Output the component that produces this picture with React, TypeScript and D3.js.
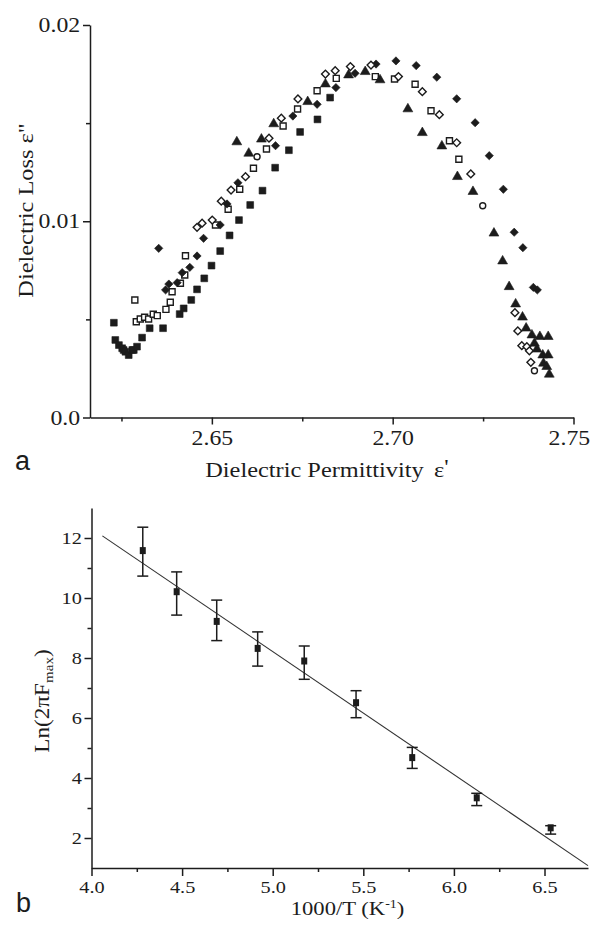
import React, { useRef, useEffect } from "react";
import * as d3 from "d3";

// ---- panel a: dielectric loss vs permittivity (Cole-Cole type plot) ----
const topXTicks = [2.65, 2.7, 2.75];
const topXTickLabels = ["2.65", "2.70", "2.75"];
const topXMinor = [2.625, 2.675, 2.725];
const topYTicks = [0, 0.01, 0.02];
const topYTickLabels = ["0.0", "0.01", "0.02"];
const topYMinor = [0.005, 0.015];

const filledSquares: [number, number][] = [
  [2.6229, 0.00483], [2.6233, 0.00395], [2.6243, 0.00369], [2.6252, 0.00353],
  [2.6256, 0.00344], [2.6261, 0.00335], [2.627, 0.00318], [2.628, 0.00344],
  [2.6284, 0.00344], [2.6293, 0.00361], [2.6307, 0.00407], [2.6328, 0.00455],
  [2.6365, 0.00455], [2.6411, 0.00527], [2.6422, 0.00556], [2.6443, 0.00599],
  [2.6459, 0.00653], [2.6479, 0.00709], [2.6499, 0.00774], [2.6523, 0.00848],
  [2.6549, 0.00928], [2.6575, 0.01006], [2.6606, 0.01083], [2.664, 0.01156],
  [2.6675, 0.01273], [2.6713, 0.01362], [2.6744, 0.01455], [2.6792, 0.01519],
  [2.6827, 0.0163],
];

const openSquares: [number, number][] = [
  [2.6287, 0.00599], [2.6291, 0.00488], [2.6302, 0.00502], [2.6314, 0.00511],
  [2.6325, 0.00502], [2.6338, 0.00526], [2.6349, 0.00519], [2.6373, 0.00551],
  [2.6385, 0.00587], [2.639, 0.00641], [2.6413, 0.00684], [2.6425, 0.00726],
  [2.6427, 0.00824], [2.651, 0.00981], [2.6545, 0.01061], [2.6577, 0.01163],
  [2.6615, 0.0127], [2.6651, 0.01368], [2.6697, 0.01485], [2.6737, 0.01572],
  [2.6791, 0.01665], [2.6844, 0.01728], [2.6952, 0.01737], [2.7005, 0.01725],
  [2.7062, 0.01698], [2.7106, 0.01563], [2.7157, 0.0141], [2.7183, 0.01316],
];

const filledDiamonds: [number, number][] = [
  [2.6353, 0.00862], [2.6372, 0.0065], [2.6381, 0.0068], [2.6404, 0.00687],
  [2.6418, 0.00738], [2.6439, 0.00765], [2.6459, 0.00823], [2.6477, 0.00913],
  [2.6523, 0.00981], [2.6542, 0.01088], [2.6572, 0.01196], [2.6676, 0.01385],
  [2.6724, 0.01536], [2.6791, 0.01596], [2.6843, 0.01681], [2.6896, 0.01754],
  [2.6954, 0.01801], [2.7009, 0.01817], [2.7065, 0.01793], [2.7122, 0.01734],
  [2.7177, 0.01624], [2.7228, 0.01502], [2.7267, 0.01334], [2.7306, 0.01163],
  [2.7336, 0.00944], [2.736, 0.00865], [2.7389, 0.00663], [2.74, 0.0065],
];

const openDiamonds: [number, number][] = [
  [2.6459, 0.00969], [2.6473, 0.0099], [2.6501, 0.01006], [2.6526, 0.01102],
  [2.6553, 0.01159], [2.6593, 0.01227], [2.6658, 0.01423], [2.6692, 0.01525],
  [2.6738, 0.01623], [2.6814, 0.0175], [2.6841, 0.01767], [2.6883, 0.01788],
  [2.694, 0.01796], [2.7016, 0.01737], [2.7082, 0.0166], [2.7129, 0.01543],
  [2.7177, 0.014], [2.7216, 0.01241], [2.7338, 0.00534], [2.7346, 0.00441],
  [2.7357, 0.00366], [2.7371, 0.00361], [2.7378, 0.0034], [2.7382, 0.00281],
];

const openCircles: [number, number][] = [
  [2.6625, 0.01329], [2.7249, 0.01079], [2.7392, 0.00238],
];

const filledTriangles: [number, number][] = [
  [2.6569, 0.01404], [2.6602, 0.01346], [2.6637, 0.01418], [2.6671, 0.01496],
  [2.6765, 0.01609], [2.6814, 0.01699], [2.6878, 0.01745], [2.6924, 0.01762],
  [2.6965, 0.0172], [2.7042, 0.01572], [2.7082, 0.01451], [2.7136, 0.01383],
  [2.7179, 0.01227], [2.7222, 0.01151], [2.728, 0.00939], [2.7304, 0.00797],
  [2.7322, 0.00666], [2.734, 0.00578], [2.7359, 0.00511], [2.7369, 0.00455],
  [2.7385, 0.0042], [2.7392, 0.00378], [2.7399, 0.00348], [2.7407, 0.00412],
  [2.743, 0.00412], [2.7415, 0.00318], [2.743, 0.00318], [2.7417, 0.00276],
  [2.7426, 0.00259], [2.7433, 0.0022],
];

// ---- panel b: Arrhenius plot ----
const botXTicks = [4.0, 4.5, 5.0, 5.5, 6.0, 6.5];
const botXMinor = [4.25, 4.75, 5.25, 5.75, 6.25];
const botYTicks = [2, 4, 6, 8, 10, 12];
const botYMinor = [3, 5, 7, 9, 11];

const invTemp = [4.283, 4.47, 4.691, 4.917, 5.174, 5.46, 5.77, 6.126, 6.534];
const lnFmax = [11.58, 10.21, 9.22, 8.32, 7.9, 6.51, 4.68, 3.34, 2.34];
const lnFmaxHigh = [12.36, 10.87, 9.93, 8.87, 8.4, 6.91, 5.02, 3.49, 2.41];
const lnFmaxLow = [10.73, 9.43, 8.58, 7.73, 7.29, 6.01, 4.32, 3.08, 2.13];
const fitLine: [number, number][] = [
  [4.06, 12.07],
  [6.74, 1.08],
];

const SERIF = "'Liberation Serif', 'Times New Roman', serif";
const SANS = "'Liberation Sans', Arial, sans-serif";
const INK = "#1c1c1c";
const SX = 1.16; // the scanned font is a bit wider than Times

export default function App() {
  const svgRef = useRef<SVGSVGElement>(null);

  useEffect(() => {
    const svg = d3.select(svgRef.current);
    svg.selectAll("*").remove();

    const styleAxis = (g: any, fs: number, minor = false) => {
      g.attr("font-family", SERIF).attr("font-size", fs);
      if (minor) g.select(".domain").remove();
      else g.select(".domain").attr("stroke", INK).attr("stroke-width", 1.5);
      g.selectAll(".tick line").attr("stroke", INK).attr("stroke-width", 1.5);
      g.selectAll(".tick text")
        .attr("fill", INK)
        .attr("transform", `scale(${SX},1)`);
    };

    const label = (
      x: number,
      y: number,
      rot: number,
      fs: number,
      build: (t: any) => void
    ) => {
      const t = svg
        .append("text")
        .attr("transform", `translate(${x},${y}) rotate(${rot}) scale(${SX},1)`)
        .attr("text-anchor", "middle")
        .attr("font-family", SERIF)
        .attr("font-size", fs)
        .attr("fill", INK);
      build(t);
    };

    // ================= panel a =================
    const xA = d3.scaleLinear().domain([2.6163, 2.75]).range([90, 573.5]);
    const yA = d3.scaleLinear().domain([0, 0.02]).range([417.5, 25]);

    svg
      .append("g")
      .attr("transform", "translate(0,417.5)")
      .call(
        d3
          .axisBottom(xA)
          .tickValues(topXTicks)
          .tickSize(7)
          .tickSizeOuter(0)
          .tickPadding(5.5)
          .tickFormat((d, i) => topXTickLabels[i])
      )
      .call((g) => styleAxis(g, 20.5))
      // last label sits on the page edge; keep it inside
      .call((g) =>
        g
          .selectAll(".tick text")
          .filter((d: any) => d === 2.75)
          .attr("dx", -4)
      );
    svg
      .append("g")
      .attr("transform", "translate(0,417.5)")
      .call(d3.axisBottom(xA).tickValues(topXMinor).tickSize(4).tickFormat(() => ""))
      .call((g) => styleAxis(g, 20.5, true));

    svg
      .append("g")
      .attr("transform", "translate(90,0)")
      .call(
        d3
          .axisLeft(yA)
          .tickValues(topYTicks)
          .tickSize(7)
          .tickSizeOuter(0)
          .tickPadding(1.5)
          .tickFormat((d, i) => topYTickLabels[i])
      )
      .call((g) => styleAxis(g, 20.5));
    svg
      .append("g")
      .attr("transform", "translate(90,0)")
      .call(d3.axisLeft(yA).tickValues(topYMinor).tickSize(4).tickFormat(() => ""))
      .call((g) => styleAxis(g, 20.5, true));

    const marks = svg.append("g");
    const sq = d3.symbol().type(d3.symbolSquare);
    const tri = d3.symbol().type(d3.symbolTriangle).size(42)();

    const drawSet = (
      data: [number, number][],
      path: string,
      filled: boolean,
      rotate = 0
    ) => {
      marks
        .append("g")
        .selectAll("path")
        .data(data)
        .enter()
        .append("path")
        .attr("d", path)
        .attr(
          "transform",
          (d) => `translate(${xA(d[0])},${yA(d[1])}) rotate(${rotate})`
        )
        .attr("fill", filled ? INK : "white")
        .attr("stroke", INK)
        .attr("stroke-width", filled ? 0.6 : 1.4);
    };

    drawSet(filledSquares, sq.size(46)()!, true);
    drawSet(openSquares, sq.size(36)()!, false);
    drawSet(filledDiamonds, sq.size(34)()!, true, 45);
    drawSet(openDiamonds, sq.size(30)()!, false, 45);
    drawSet(filledTriangles, tri!, true);
    marks
      .append("g")
      .selectAll("circle")
      .data(openCircles)
      .enter()
      .append("circle")
      .attr("cx", (d) => xA(d[0]))
      .attr("cy", (d) => yA(d[1]))
      .attr("r", 3)
      .attr("fill", "white")
      .attr("stroke", INK)
      .attr("stroke-width", 1.4);

    label(327, 477, 0, 21, (t) => {
      t.append("tspan").text("Dielectric Permittivity");
      t.append("tspan").attr("dx", 9).text("ε");
      t.append("tspan").attr("dy", -3).text("'");
    });
    label(33, 210.5, -90, 21, (t) => {
      t.append("tspan").text("Dielectric Loss ");
      t.append("tspan").text("ε\"");
    });

    svg
      .append("text")
      .attr("x", 15)
      .attr("y", 470)
      .attr("font-family", SANS)
      .attr("font-size", 27)
      .attr("fill", INK)
      .text("a");

    // ================= panel b =================
    const xB = d3.scaleLinear().domain([4, 6.74]).range([91.5, 588]);
    const yB = d3.scaleLinear().domain([1, 13]).range([868, 508]);

    svg
      .append("g")
      .attr("transform", "translate(0,868)")
      .call(
        d3
          .axisBottom(xB)
          .tickValues(botXTicks)
          .tickSize(8)
          .tickSizeOuter(0)
          .tickPadding(5)
          .tickFormat(d3.format(".1f"))
      )
      .call((g) => styleAxis(g, 17.5));
    svg
      .append("g")
      .attr("transform", "translate(0,868)")
      .call(d3.axisBottom(xB).tickValues(botXMinor).tickSize(4).tickFormat(() => ""))
      .call((g) => styleAxis(g, 17.5, true));

    svg
      .append("g")
      .attr("transform", "translate(91.5,0)")
      .call(
        d3
          .axisLeft(yB)
          .tickValues(botYTicks)
          .tickSize(7)
          .tickSizeOuter(0)
          .tickPadding(1.3)
          .tickFormat(d3.format("d"))
      )
      .call((g) => styleAxis(g, 17.5));
    svg
      .append("g")
      .attr("transform", "translate(91.5,0)")
      .call(d3.axisLeft(yB).tickValues(botYMinor).tickSize(4).tickFormat(() => ""))
      .call((g) => styleAxis(g, 17.5, true));

    // linear fit
    svg
      .append("path")
      .datum(fitLine)
      .attr(
        "d",
        d3
          .line()
          .x((d) => xB(d[0]))
          .y((d) => yB(d[1]))
      )
      .attr("fill", "none")
      .attr("stroke", "#333")
      .attr("stroke-width", 1.1);

    const pts = invTemp.map((x, i) => ({
      x,
      y: lnFmax[i],
      lo: lnFmaxLow[i],
      hi: lnFmaxHigh[i],
    }));
    const eb = svg.append("g").attr("stroke", INK).attr("stroke-width", 1.5);
    pts.forEach((p) => {
      const cx = xB(p.x);
      eb.append("line")
        .attr("x1", cx)
        .attr("x2", cx)
        .attr("y1", yB(p.hi))
        .attr("y2", yB(p.lo));
      [p.hi, p.lo].forEach((v) =>
        eb
          .append("line")
          .attr("x1", cx - 5.5)
          .attr("x2", cx + 5.5)
          .attr("y1", yB(v))
          .attr("y2", yB(v))
      );
    });
    svg
      .append("g")
      .selectAll("rect")
      .data(pts)
      .enter()
      .append("rect")
      .attr("x", (d) => xB(d.x) - 3)
      .attr("y", (d) => yB(d.y) - 3.5)
      .attr("width", 6)
      .attr("height", 7)
      .attr("fill", INK);

    label(347.5, 915, 0, 19.5, (t) => {
      t.append("tspan").text("1000/T (K");
      t.append("tspan").attr("dy", -7).attr("font-size", 12).text("-1");
      t.append("tspan").attr("dy", 7).text(")");
    });
    label(49, 701, -90, 20, (t) => {
      t.append("tspan").text("Ln(2πF");
      t.append("tspan").attr("dy", 4).attr("font-size", 13).text("max");
      t.append("tspan").attr("dy", -4).text(")");
    });

    svg
      .append("text")
      .attr("x", 16)
      .attr("y", 912)
      .attr("font-family", SANS)
      .attr("font-size", 27)
      .attr("fill", INK)
      .text("b");
  }, []);

  return (
    <svg
      ref={svgRef}
      width={592}
      height={926}
      style={{ position: "absolute", left: 0, top: 0, background: "white" }}
    />
  );
}
